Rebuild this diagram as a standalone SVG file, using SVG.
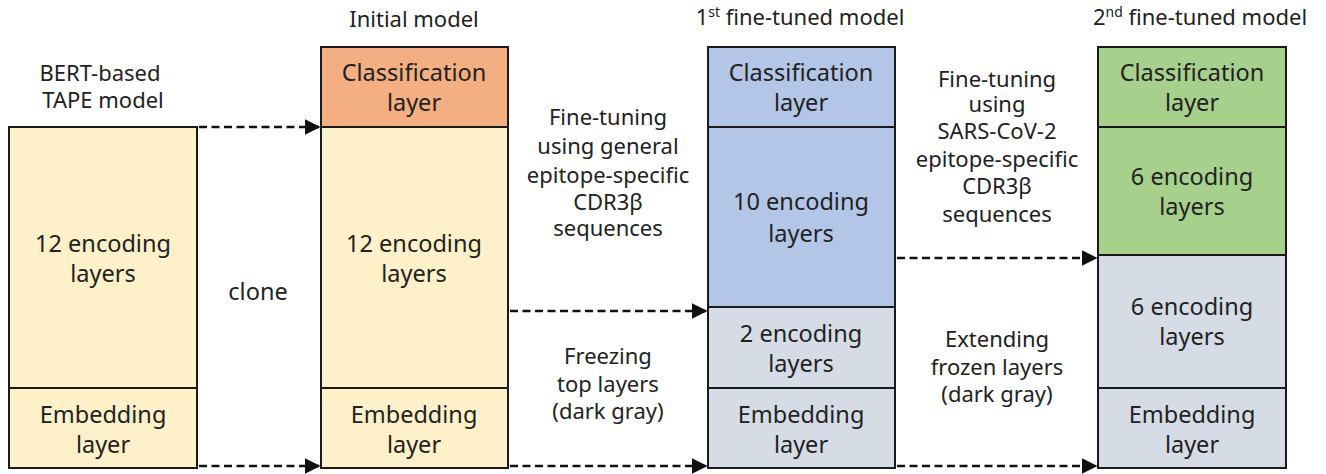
<svg xmlns="http://www.w3.org/2000/svg" width="1326" height="474" viewBox="0 0 1326 474">
  <defs>
    <style>
      text { font-family: "Noto Sans", "Open Sans", sans-serif; font-size: 22px; fill: #222; text-anchor: middle; }
      .in { font-size: 23.5px; }
      .box { stroke: #1a1a1a; stroke-width: 2; }
      .yellow { fill: #FEF0C8; }
      .orange { fill: #F3AE82; }
      .blue { fill: #B4C6E7; }
      .gray { fill: #D6DCE5; }
      .green { fill: #A8D08D; }
      .conn { stroke: #111; stroke-width: 2.6; stroke-dasharray: 8 4.5; fill: none; }
    </style>
    <marker id="arrow" viewBox="0 0 10 10" refX="9" refY="5" markerWidth="6" markerHeight="6" orient="auto" markerUnits="strokeWidth">
      <path d="M0,0 L10,5 L0,10 z" fill="#111"/>
    </marker>
  </defs>
  <rect width="1326" height="474" fill="#fff"/>

  <!-- Column titles and side labels -->
  <g id="labels">
    <text x="100" y="81">BERT-based</text>
    <text x="103" y="108">TAPE model</text>
    <text x="414" y="27">Initial model</text>
    <text x="800" y="25">1<tspan font-size="14" dy="-8">st</tspan><tspan dy="8"> fine-tuned model</tspan></text>
    <text x="1200" y="25">2<tspan font-size="14" dy="-8">nd</tspan><tspan dy="8"> fine-tuned model</tspan></text>
    <text class="in" x="258" y="300">clone</text>
    <text x="608" y="125">Fine-tuning</text>
    <text x="608" y="154">using general</text>
    <text x="608" y="183">epitope-specific</text>
    <text x="608" y="210">CDR3β</text>
    <text x="608" y="236">sequences</text>
    <text x="608" y="364">Freezing</text>
    <text x="608" y="392">top layers</text>
    <text x="608" y="419">(dark gray)</text>
    <text x="997" y="87">Fine-tuning</text>
    <text x="997" y="112">using</text>
    <text x="997" y="139">SARS-CoV-2</text>
    <text x="997" y="167">epitope-specific</text>
    <text x="997" y="194">CDR3β</text>
    <text x="997" y="222">sequences</text>
    <text x="997" y="347">Extending</text>
    <text x="997" y="375">frozen layers</text>
    <text x="997" y="402">(dark gray)</text>
  </g>

  <!-- BERT-based TAPE model -->
  <g id="tape-model">
    <rect class="box yellow" x="9" y="127" width="188" height="261"/>
    <rect class="box yellow" x="9" y="388" width="188" height="80"/>
    <text class="in" x="103" y="252">12 encoding</text>
    <text class="in" x="103" y="282">layers</text>
    <text class="in" x="103" y="423">Embedding</text>
    <text class="in" x="103" y="453">layer</text>
  </g>

  <!-- Initial model -->
  <g id="initial-model">
    <rect class="box orange" x="321" y="47" width="187" height="80"/>
    <rect class="box yellow" x="321" y="127" width="187" height="261"/>
    <rect class="box yellow" x="321" y="388" width="187" height="80"/>
    <text class="in" x="414" y="81">Classification</text>
    <text class="in" x="414" y="111">layer</text>
    <text class="in" x="414" y="252">12 encoding</text>
    <text class="in" x="414" y="282">layers</text>
    <text class="in" x="414" y="423">Embedding</text>
    <text class="in" x="414" y="453">layer</text>
  </g>

  <!-- 1st fine-tuned model -->
  <g id="first-finetuned">
    <rect class="box blue" x="708" y="47" width="187" height="80"/>
    <rect class="box blue" x="708" y="127" width="187" height="180"/>
    <rect class="box gray" x="708" y="307" width="187" height="81"/>
    <rect class="box gray" x="708" y="388" width="187" height="80"/>
    <text class="in" x="801" y="81">Classification</text>
    <text class="in" x="801" y="111">layer</text>
    <text class="in" x="801" y="210">10 encoding</text>
    <text class="in" x="801" y="242">layers</text>
    <text class="in" x="801" y="342">2 encoding</text>
    <text class="in" x="801" y="372">layers</text>
    <text class="in" x="801" y="423">Embedding</text>
    <text class="in" x="801" y="453">layer</text>
  </g>

  <!-- 2nd fine-tuned model -->
  <g id="second-finetuned">
    <rect class="box green" x="1098" y="47" width="188" height="80"/>
    <rect class="box green" x="1098" y="127" width="188" height="128"/>
    <rect class="box gray" x="1098" y="255" width="188" height="133"/>
    <rect class="box gray" x="1098" y="388" width="188" height="80"/>
    <text class="in" x="1192" y="81">Classification</text>
    <text class="in" x="1192" y="111">layer</text>
    <text class="in" x="1192" y="185">6 encoding</text>
    <text class="in" x="1192" y="215">layers</text>
    <text class="in" x="1192" y="315">6 encoding</text>
    <text class="in" x="1192" y="345">layers</text>
    <text class="in" x="1192" y="423">Embedding</text>
    <text class="in" x="1192" y="453">layer</text>
  </g>

  <!-- Dashed connectors -->
  <g id="connectors">
    <line class="conn" x1="199" y1="127" x2="319" y2="127" marker-end="url(#arrow)"/>
    <line class="conn" x1="199" y1="466" x2="319" y2="466" marker-end="url(#arrow)"/>
    <line class="conn" x1="510" y1="311" x2="706" y2="311" marker-end="url(#arrow)"/>
    <line class="conn" x1="510" y1="466" x2="706" y2="466" marker-end="url(#arrow)"/>
    <line class="conn" x1="897" y1="258" x2="1096" y2="258" marker-end="url(#arrow)"/>
    <line class="conn" x1="897" y1="466" x2="1096" y2="466" marker-end="url(#arrow)"/>
  </g>
</svg>
